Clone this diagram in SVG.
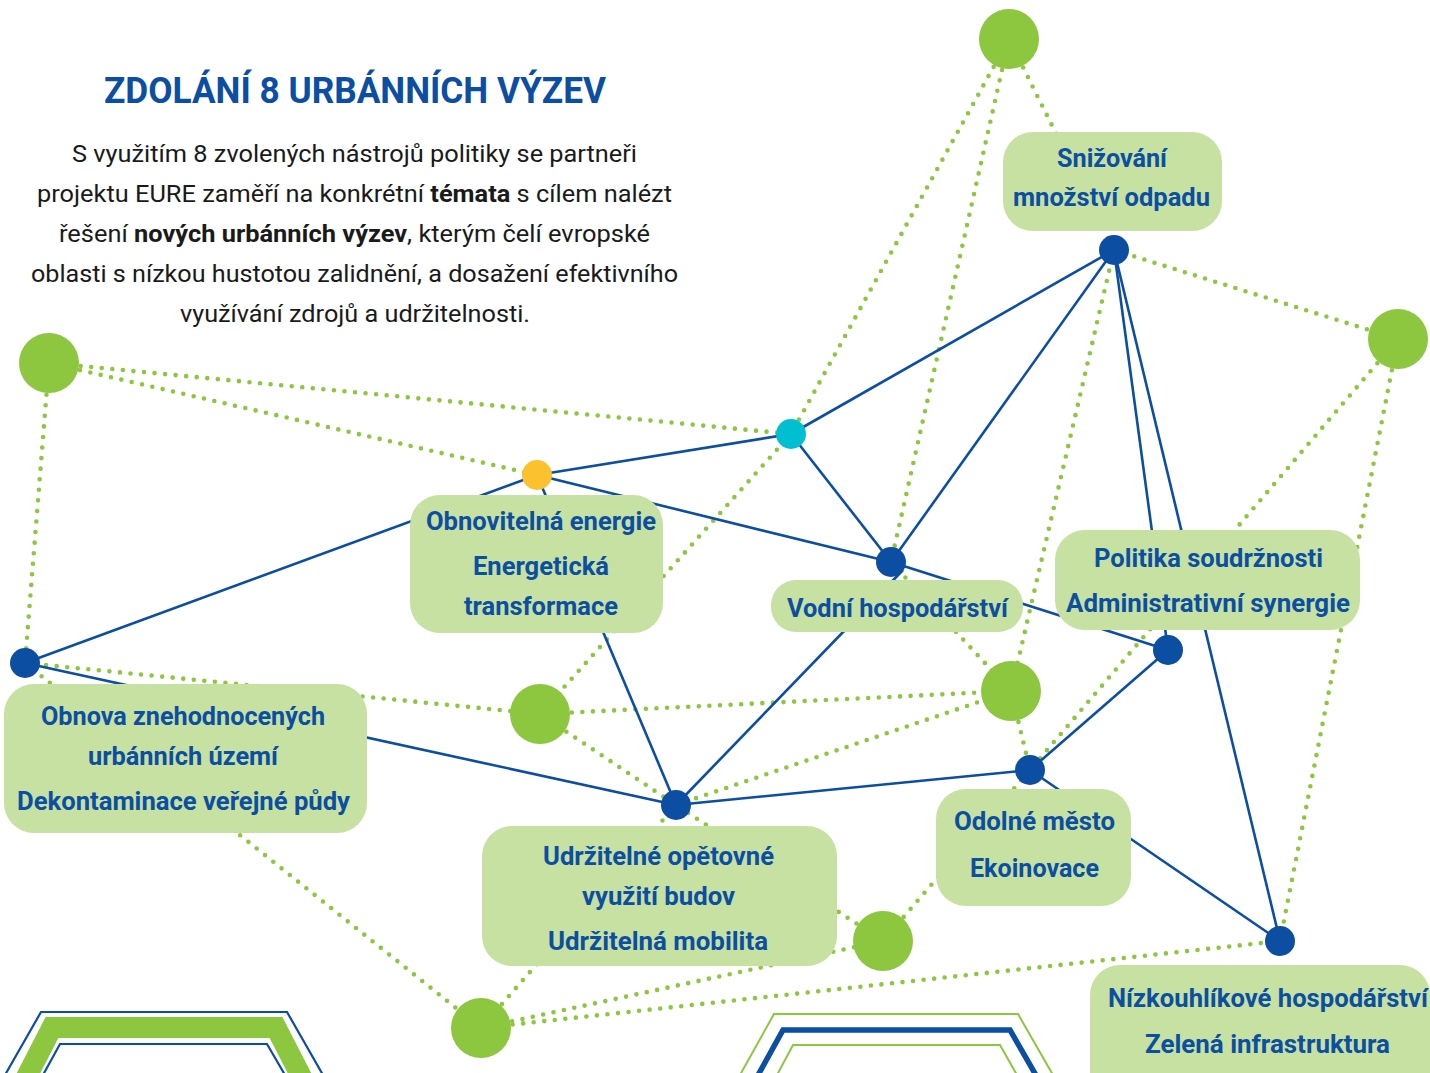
<svg xmlns="http://www.w3.org/2000/svg" width="1430" height="1073" viewBox="0 0 1430 1073">
<defs>
<style>
.solid{stroke:#0b4ea2;stroke-width:2.6;fill:none}
.dot{stroke:#8dc63f;stroke-width:4.6;fill:none;stroke-linecap:round;stroke-dasharray:0 10.6}
.box{fill:#c6e1a1}
.lbl{font-family:Roboto,"Liberation Sans",sans-serif;font-weight:700;font-size:25px;fill:#0b4ea2}
.para{font-family:Roboto,"Liberation Sans",sans-serif;font-size:24px;fill:#1a1a1a}
.b{font-weight:700}
.green{fill:#8dc63f}
.blue{fill:#0b4ea2}
</style>
</defs>
<rect width="1430" height="1073" fill="#ffffff"/>

<g id="title">
<text x="104" y="103" textLength="502" lengthAdjust="spacingAndGlyphs" style="font-family:Roboto,'Liberation Sans',sans-serif;font-weight:700;font-size:36px;fill:#0b4ea2">ZDOLÁNÍ 8 URBÁNNÍCH VÝZEV</text>
</g>
<g id="intro">
<text class="para" x="72" y="162" textLength="565" lengthAdjust="spacingAndGlyphs">S využitím 8 zvolených nástrojů politiky se partneři</text>
<text class="para" x="37" y="202" textLength="635" lengthAdjust="spacingAndGlyphs">projektu EURE zaměří na konkrétní <tspan class="b">témata</tspan> s cílem nalézt</text>
<text class="para" x="59" y="242" textLength="591" lengthAdjust="spacingAndGlyphs">řešení <tspan class="b">nových urbánních výzev</tspan>, kterým čelí evropské</text>
<text class="para" x="31" y="282" textLength="647" lengthAdjust="spacingAndGlyphs">oblasti s nízkou hustotou zalidnění, a dosažení efektivního</text>
<text class="para" x="180" y="322" textLength="350" lengthAdjust="spacingAndGlyphs">využívání zdrojů a udržitelnosti.</text>
</g>

<g id="hexagons">
<polyline points="5,1075 41,1012 287,1012 323,1075" fill="none" stroke="#0b4ea2" stroke-width="2.2"/>
<polyline points="25,1080 52,1027.5 276,1027.5 303,1080" fill="none" stroke="#8dc63f" stroke-width="21" stroke-linejoin="miter"/>
<polyline points="43,1075 60,1044 267,1044 285,1075" fill="none" stroke="#0b4ea2" stroke-width="2.2"/>
<polyline points="740,1075 774,1014 1018,1014 1053,1075" fill="none" stroke="#8dc63f" stroke-width="2"/>
<polyline points="757,1077 783,1030 1010,1030 1037,1077" fill="none" stroke="#0b4ea2" stroke-width="5.5"/>
<polyline points="777,1075 793,1045 1000,1045 1017,1075" fill="none" stroke="#8dc63f" stroke-width="2"/>
</g>

<g id="connectors">
<path class="dot" d="M1009 39 L791 434"/>
<path class="dot" d="M1009 39 L891 562"/>
<path class="dot" d="M1009 39 L1114 250"/>
<path class="dot" d="M1114 250 L1398 339"/>
<path class="dot" d="M1114 250 L1011 691"/>
<path class="dot" d="M1398 339 L1030 770"/>
<path class="dot" d="M1398 339 L1280 941"/>
<path class="dot" d="M49 363 L791 434"/>
<path class="dot" d="M49 363 L537 475"/>
<path class="dot" d="M49 363 L25 663"/>
<path class="dot" d="M791 434 L540 714"/>
<path class="dot" d="M25 663 L540 714"/>
<path class="dot" d="M25 663 L481 1028"/>
<path class="dot" d="M540 714 L1011 691"/>
<path class="dot" d="M540 714 L676 805"/>
<path class="dot" d="M676 805 L1011 691"/>
<path class="dot" d="M891 562 L1011 691"/>
<path class="dot" d="M1011 691 L1030 770"/>
<path class="dot" d="M883 941 L1030 770"/>
<path class="dot" d="M883 941 L676 805"/>
<path class="dot" d="M481 1028 L676 805"/>
<path class="dot" d="M481 1028 L883 941"/>
<path class="dot" d="M481 1028 L1280 941"/>

<path class="solid" d="M1114 250 L791 434"/>
<path class="solid" d="M1114 250 L891 562"/>
<path class="solid" d="M1114 250 L1168 650"/>
<path class="solid" d="M1114 250 L1280 941"/>
<path class="solid" d="M791 434 L537 475"/>
<path class="solid" d="M791 434 L891 562"/>
<path class="solid" d="M537 475 L25 663"/>
<path class="solid" d="M537 475 L891 562"/>
<path class="solid" d="M537 475 L676 805"/>
<path class="solid" d="M891 562 L1168 650"/>
<path class="solid" d="M676 805 L903 570"/>
<path class="solid" d="M25 663 L676 805"/>
<path class="solid" d="M676 805 L1030 770"/>
<path class="solid" d="M1030 770 L1168 650"/>
<path class="solid" d="M1030 770 L1280 941"/>
</g>

<g id="node-snizovani">
<rect class="box" x="1003" y="132" width="219" height="99" rx="30"/>
<text class="lbl" x="1057" y="167" textLength="110" lengthAdjust="spacingAndGlyphs">Snižování</text>
<text class="lbl" x="1013" y="206" textLength="197" lengthAdjust="spacingAndGlyphs">množství odpadu</text>
</g>
<g id="node-obnovitelna">
<rect class="box" x="410" y="495" width="253" height="138" rx="30"/>
<text class="lbl" x="426" y="530" textLength="230" lengthAdjust="spacingAndGlyphs">Obnovitelná energie</text>
<text class="lbl" x="473" y="575" textLength="136" lengthAdjust="spacingAndGlyphs">Energetická</text>
<text class="lbl" x="464" y="615" textLength="154" lengthAdjust="spacingAndGlyphs">transformace</text>
</g>
<g id="node-vodni">
<rect class="box" x="771" y="580" width="252" height="52" rx="25"/>
<text class="lbl" x="787" y="617" textLength="221" lengthAdjust="spacingAndGlyphs">Vodní hospodářství</text>
</g>
<g id="node-politika">
<rect class="box" x="1055" y="530" width="305" height="100" rx="30"/>
<text class="lbl" x="1094" y="567" textLength="229" lengthAdjust="spacingAndGlyphs">Politika soudržnosti</text>
<text class="lbl" x="1066" y="612" textLength="284" lengthAdjust="spacingAndGlyphs">Administrativní synergie</text>
</g>
<g id="node-obnova">
<rect class="box" x="4" y="684" width="363" height="149" rx="30"/>
<text class="lbl" x="41" y="725" textLength="284" lengthAdjust="spacingAndGlyphs">Obnova znehodnocených</text>
<text class="lbl" x="88" y="765" textLength="190" lengthAdjust="spacingAndGlyphs">urbánních území</text>
<text class="lbl" x="17" y="810" textLength="333" lengthAdjust="spacingAndGlyphs">Dekontaminace veřejné půdy</text>
</g>
<g id="node-udrzitelne">
<rect class="box" x="482" y="826" width="355" height="140" rx="30"/>
<text class="lbl" x="543" y="865" textLength="231" lengthAdjust="spacingAndGlyphs">Udržitelné opětovné</text>
<text class="lbl" x="582" y="905" textLength="153" lengthAdjust="spacingAndGlyphs">využití budov</text>
<text class="lbl" x="548" y="950" textLength="220" lengthAdjust="spacingAndGlyphs">Udržitelná mobilita</text>
</g>
<g id="node-odolne">
<rect class="box" x="936" y="789" width="195" height="117" rx="30"/>
<text class="lbl" x="954" y="830" textLength="161" lengthAdjust="spacingAndGlyphs">Odolné město</text>
<text class="lbl" x="970" y="877" textLength="129" lengthAdjust="spacingAndGlyphs">Ekoinovace</text>
</g>
<g id="node-nizkouhlikove">
<rect class="box" x="1090" y="965" width="340" height="140" rx="30"/>
<text class="lbl" x="1108" y="1007" textLength="320" lengthAdjust="spacingAndGlyphs">Nízkouhlíkové hospodářství</text>
<text class="lbl" x="1145" y="1053" textLength="245" lengthAdjust="spacingAndGlyphs">Zelená infrastruktura</text>
</g>

<g id="green-hubs">
<circle id="g1" class="green" cx="1009" cy="39" r="30"/>
<circle id="g2" class="green" cx="1398" cy="339" r="30"/>
<circle id="g3" class="green" cx="49" cy="363" r="30"/>
<circle id="g4" class="green" cx="540" cy="714" r="30"/>
<circle id="g5" class="green" cx="1011" cy="691" r="30"/>
<circle id="g6" class="green" cx="883" cy="941" r="30"/>
<circle id="g7" class="green" cx="481" cy="1028" r="30"/>
</g>
<g id="points">
<circle id="cyan" cx="791" cy="434" r="15" fill="#00bfd0"/>
<circle id="yellow" cx="537" cy="475" r="15" fill="#fcc12e"/>
<circle id="b1" class="blue" cx="1114" cy="250" r="15"/>
<circle id="b2" class="blue" cx="891" cy="562" r="15"/>
<circle id="b3" class="blue" cx="25" cy="663" r="15"/>
<circle id="b4" class="blue" cx="1168" cy="650" r="15"/>
<circle id="b5" class="blue" cx="1030" cy="770" r="15"/>
<circle id="b6" class="blue" cx="676" cy="805" r="15"/>
<circle id="b7" class="blue" cx="1280" cy="941" r="15"/>
</g>
</svg>
